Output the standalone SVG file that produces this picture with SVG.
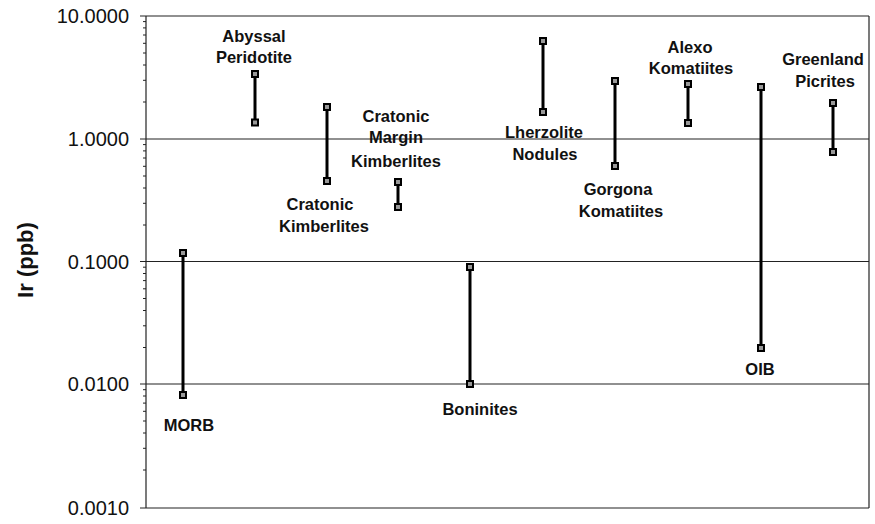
<svg xmlns="http://www.w3.org/2000/svg" width="875" height="524" viewBox="0 0 875 524">
<style>
.grid{stroke:#222;stroke-width:1.2;fill:none}
.tick{stroke:#222;stroke-width:1;fill:none}
.tl{font-family:"Liberation Sans",Arial,sans-serif;font-size:20px;fill:#111;text-anchor:end}
.lab{font-family:"Liberation Sans",Arial,sans-serif;font-size:16.5px;font-weight:bold;fill:#111;text-anchor:middle}
.bar{stroke:#000;stroke-width:3;fill:none}
.mk{fill:#999;stroke:#000;stroke-width:2}
</style>
<rect width="875" height="524" fill="#fff"/>
<g id="axes">
<line class="grid" x1="146" y1="16" x2="869" y2="16"/>
<line class="grid" x1="146" y1="139" x2="869" y2="139"/>
<line class="grid" x1="146" y1="261.5" x2="869" y2="261.5"/>
<line class="grid" x1="146" y1="384" x2="869" y2="384"/>
<line class="grid" x1="146" y1="508" x2="869" y2="508"/>
<line class="grid" x1="146" y1="16" x2="146" y2="508"/>
<line class="grid" x1="869" y1="16" x2="869" y2="508"/>
<g class="tick">
<path d="M140 16H146M140 139H146M140 261.5H146M140 384H146M140 508H146"/>
<path d="M143 21.6H146M143 27.9H146M143 35H146M143 43.3H146M143 53H146M143 65H146M143 80.3H146M143 102H146"/>
<path d="M143 144.6H146M143 150.9H146M143 158H146M143 166.3H146M143 176H146M143 188H146M143 203.3H146M143 225H146"/>
<path d="M143 267.2H146M143 273.5H146M143 280.6H146M143 288.8H146M143 298.5H146M143 310.5H146M143 325.8H146M143 347.5H146"/>
<path d="M143 389.7H146M143 396H146M143 403.1H146M143 411.3H146M143 421H146M143 433H146M143 448.3H146M143 470H146"/>
</g>
<text class="tl" x="129" y="23">10.0000</text>
<text class="tl" x="129" y="146">1.0000</text>
<text class="tl" x="129" y="268.5">0.1000</text>
<text class="tl" x="129" y="391">0.0100</text>
<text class="tl" x="129" y="515">0.0010</text>
<text transform="translate(33,260) rotate(-90)" font-family="'Liberation Sans',Arial,sans-serif" font-size="22" font-weight="bold" fill="#111" text-anchor="middle">Ir (ppb)</text>
</g>
<g id="connectors">
<line class="bar" x1="183" y1="253" x2="183" y2="395"/>
<line class="bar" x1="255" y1="74" x2="255" y2="122.5"/>
<line class="bar" x1="327" y1="107" x2="327" y2="181"/>
<line class="bar" x1="398" y1="182" x2="398" y2="207"/>
<line class="bar" x1="470" y1="267" x2="470" y2="384"/>
<line class="bar" x1="543" y1="41" x2="543" y2="112"/>
<line class="bar" x1="615" y1="81" x2="615" y2="166"/>
<line class="bar" x1="688" y1="84" x2="688" y2="123"/>
<line class="bar" x1="761" y1="87" x2="761" y2="348"/>
<line class="bar" x1="833" y1="103" x2="833" y2="152"/>
</g>
<g id="MORB">
<rect class="mk" x="180" y="250" width="6" height="6"/><rect class="mk" x="180" y="392" width="6" height="6"/>
<text class="lab" x="189" y="431">MORB</text>
</g>
<g id="abyssal">
<rect class="mk" x="252" y="71" width="6" height="6"/><rect class="mk" x="252" y="119.5" width="6" height="6"/>
<text class="lab" x="254" y="42">Abyssal</text><text class="lab" x="254" y="63">Peridotite</text>
</g>
<g id="cratonic">
<rect class="mk" x="324" y="104" width="6" height="6"/><rect class="mk" x="324" y="178" width="6" height="6"/>
<text class="lab" x="320" y="210">Cratonic</text><text class="lab" x="324" y="232">Kimberlites</text>
</g>
<g id="margin">
<rect class="mk" x="395" y="179" width="6" height="6"/><rect class="mk" x="395" y="204" width="6" height="6"/>
<text class="lab" x="396" y="122">Cratonic</text><text class="lab" x="396" y="143">Margin</text><text class="lab" x="396" y="167">Kimberlites</text>
</g>
<g id="boninites">
<rect class="mk" x="467" y="264" width="6" height="6"/><rect class="mk" x="467" y="381" width="6" height="6"/>
<text class="lab" x="480" y="415">Boninites</text>
</g>
<g id="lherzolite">
<rect class="mk" x="540" y="38" width="6" height="6"/><rect class="mk" x="540" y="109" width="6" height="6"/>
<text class="lab" x="544" y="138">Lherzolite</text><text class="lab" x="545" y="160">Nodules</text>
</g>
<g id="gorgona">
<rect class="mk" x="612" y="78" width="6" height="6"/><rect class="mk" x="612" y="163" width="6" height="6"/>
<text class="lab" x="618" y="195">Gorgona</text><text class="lab" x="621" y="217">Komatiites</text>
</g>
<g id="alexo">
<rect class="mk" x="685" y="81" width="6" height="6"/><rect class="mk" x="685" y="120" width="6" height="6"/>
<text class="lab" x="690" y="53">Alexo</text><text class="lab" x="691" y="74">Komatiites</text>
</g>
<g id="oib">
<rect class="mk" x="758" y="84" width="6" height="6"/><rect class="mk" x="758" y="345" width="6" height="6"/>
<text class="lab" x="760" y="375">OIB</text>
</g>
<g id="greenland">
<rect class="mk" x="830" y="100" width="6" height="6"/><rect class="mk" x="830" y="149" width="6" height="6"/>
<text class="lab" x="823" y="65">Greenland</text><text class="lab" x="825" y="87">Picrites</text>
</g>
</svg>
